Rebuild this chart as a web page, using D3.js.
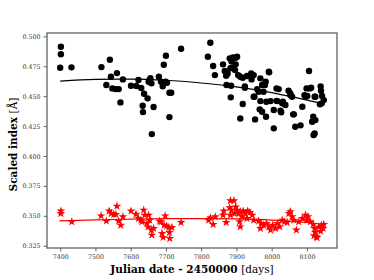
<!DOCTYPE html>
<html>
<head>
    <meta charset="UTF-8">
    <script src="https://d3js.org/d3.v7.min.js"></script>
    <style>
        body { margin: 0; background: #fff; }
        svg { display: block; }
    </style>
</head>
<body>
    <svg></svg>
    <script>
        let width = 374, height = 280;

        // black circles: [julian date - 2450000, scaled index]
        let blackPoints = [
            [7402, 0.4913], [7402, 0.4850], [7400, 0.4738], [7432, 0.4741],
            [7517, 0.4743], [7541, 0.4804], [7544, 0.4662], [7561, 0.4693], [7578, 0.4640], [7531, 0.4593],
            [7548, 0.4565], [7557, 0.4559], [7566, 0.4559], [7571, 0.4448],
            [7601, 0.4587], [7616, 0.4585], [7622, 0.4635], [7630, 0.4568], [7638, 0.4520], [7648, 0.4482],
            [7634, 0.4420], [7635, 0.4367], [7654, 0.4635], [7659, 0.4607], [7660, 0.4183], [7665, 0.4409],
            [7651, 0.4620], [7656, 0.4650], [7680, 0.4662], [7686, 0.4620], [7694, 0.4763], [7700, 0.4838],
            [7691, 0.4582], [7699, 0.4620], [7703, 0.4612], [7710, 0.4528], [7715, 0.4528], [7710, 0.4325],
            [7743, 0.4896], [7826, 0.4947], [7819, 0.4829], [7834, 0.4752], [7839, 0.4676],
            [7862, 0.4766], [7867, 0.4710], [7871, 0.4671], [7881, 0.4816], [7883, 0.4733], [7890, 0.4738],
            [7898, 0.4821], [7898, 0.4766], [7896, 0.4718], [7890, 0.4824], [7902, 0.4829], [7886, 0.4790],
            [7875, 0.4690], [7905, 0.4676], [7911, 0.4662], [7918, 0.4654], [7930, 0.4668], [7942, 0.4690],
            [7949, 0.4676], [7943, 0.4640], [7968, 0.4649], [7993, 0.4699], [7983, 0.4620], [7981, 0.4593],
            [7872, 0.4593], [7885, 0.4587], [7884, 0.4490], [7911, 0.4314], [7918, 0.4434], [7924, 0.4570],
            [7924, 0.4582], [7951, 0.4495], [7959, 0.4559], [7963, 0.4537], [7968, 0.4459], [7966, 0.4390],
            [7973, 0.4370], [7953, 0.4306], [7984, 0.4328], [7985, 0.4453], [7997, 0.4459], [8006, 0.4384],
            [8006, 0.4231], [8014, 0.4565], [8020, 0.4559], [8014, 0.4461], [8025, 0.4378], [8032, 0.4453],
            [8039, 0.4426], [8048, 0.4545], [8053, 0.4523], [8053, 0.4509], [8058, 0.4495], [8061, 0.4348],
            [8067, 0.4244], [8082, 0.4256], [8087, 0.4411], [8093, 0.4509], [8101, 0.4501], [8106, 0.4710],
            [8099, 0.4565], [8108, 0.4565], [8112, 0.4570], [8122, 0.4495], [8118, 0.4328], [8115, 0.4286],
            [8124, 0.4300], [8122, 0.4189], [8119, 0.4175], [8139, 0.4582], [8140, 0.4545], [8143, 0.4501],
            [8148, 0.4467], [8137, 0.4432], [8142, 0.4440], [7973, 0.4593], [7977, 0.4537], [7949, 0.4495],
            [7992, 0.4704], [8027, 0.4365], [8063, 0.4348], [8096, 0.4495], [8124, 0.4495], [8030, 0.4440],
            [8016, 0.4459]
        ];

        // red stars
        let redPoints = [
            [7402, 0.3540], [7402, 0.3520], [7433, 0.3450], [7516, 0.3500], [7531, 0.3456], [7539, 0.3540],
            [7545, 0.3520], [7552, 0.3512], [7561, 0.3581], [7558, 0.3512], [7566, 0.3456], [7572, 0.3422],
            [7578, 0.3492], [7601, 0.3540], [7615, 0.3514], [7622, 0.3478], [7629, 0.3464], [7637, 0.3548],
            [7640, 0.3506], [7632, 0.3450], [7646, 0.3437], [7651, 0.3506], [7654, 0.3464], [7649, 0.3408],
            [7659, 0.3381], [7660, 0.3339], [7665, 0.3395], [7682, 0.3456], [7686, 0.3450], [7689, 0.3353],
            [7692, 0.3320], [7698, 0.3500], [7695, 0.3422], [7702, 0.3414], [7708, 0.3403], [7710, 0.3361],
            [7711, 0.3311], [7717, 0.3403], [7743, 0.3445],
            [7826, 0.3483], [7821, 0.3464], [7834, 0.3428], [7840, 0.3492], [7864, 0.3540], [7862, 0.3506],
            [7871, 0.3445], [7883, 0.3626], [7893, 0.3626], [7881, 0.3567], [7886, 0.3548], [7883, 0.3506],
            [7898, 0.3575], [7902, 0.3548], [7895, 0.3520], [7907, 0.3520], [7911, 0.3534], [7919, 0.3540],
            [7925, 0.3520], [7932, 0.3540], [7938, 0.3529], [7945, 0.3506], [7916, 0.3492], [7909, 0.3450],
            [7911, 0.3408], [7930, 0.3478], [7949, 0.3464], [7963, 0.3456], [7970, 0.3437], [7968, 0.3395],
            [7977, 0.3422], [7985, 0.3437], [7992, 0.3408], [7997, 0.3381], [8003, 0.3422], [8011, 0.3395],
            [8017, 0.3437], [8023, 0.3408], [8030, 0.3464], [8036, 0.3450], [8044, 0.3445], [8049, 0.3520],
            [8053, 0.3534], [8058, 0.3492], [8063, 0.3464], [8070, 0.3381], [8077, 0.3450], [8087, 0.3478],
            [8096, 0.3506], [8103, 0.3492], [8099, 0.3464], [8110, 0.3450], [8118, 0.3428], [8122, 0.3395],
            [8124, 0.3361], [8120, 0.3333], [8127, 0.3325], [8134, 0.3408], [8141, 0.3422], [8146, 0.3395],
            [8148, 0.3428], [8139, 0.3372], [8129, 0.3317]
        ];

        // fitted trends
        let blackFit = [
            [7400, 0.4626], [7500, 0.4641], [7600, 0.4643], [7700, 0.4633], [7800, 0.4610],
            [7900, 0.4578], [8000, 0.4530], [8100, 0.4467], [8148, 0.4436]
        ];
        let redFit = [
            [7398, 0.3458], [7500, 0.3466], [7600, 0.3472], [7700, 0.3476], [7800, 0.3477],
            [7900, 0.3474], [8000, 0.3464], [8100, 0.3444], [8148, 0.3430]
        ];

        let xTicks = [7400, 7500, 7600, 7700, 7800, 7900, 8000, 8100];
        let yTicks = [0.325, 0.350, 0.375, 0.400, 0.425, 0.450, 0.475, 0.500];

        let mLeft = 47, mRight = 337, mTop = 33, mBottom = 248;
        let font = "'DejaVu Serif', serif";

        let svg = d3.select("svg")
            .attr("width", width)
            .attr("height", height);

        let x = d3.scaleLinear().domain([7362.6, 8185.4]).range([mLeft, mRight]);
        let y = d3.scaleLinear().domain([0.3231, 0.5028]).range([mBottom, mTop]);

        // axes
        let xAxis = svg.append("g")
            .attr("transform", "translate(0," + mBottom + ")")
            .call(d3.axisBottom(x).tickValues(xTicks).tickSize(3.5).tickPadding(3).tickFormat(d3.format("d")));
        let yAxis = svg.append("g")
            .attr("transform", "translate(" + mLeft + ",0)")
            .call(d3.axisLeft(y).tickValues(yTicks).tickSize(3.5).tickPadding(3).tickFormat(d3.format(".3f")));

        [xAxis, yAxis].forEach(a => {
            a.select(".domain").remove();
            a.selectAll("line").attr("stroke", "#444").attr("stroke-width", 0.8);
            a.selectAll("text")
                .attr("fill", "#333")
                .style("font-family", font)
                .style("font-size", "6.3px");
        });

        // frame
        svg.append("rect")
            .attr("x", mLeft).attr("y", mTop)
            .attr("width", mRight - mLeft).attr("height", mBottom - mTop)
            .attr("fill", "none")
            .attr("stroke", "#555")
            .attr("stroke-width", 1.2);

        let line = d3.line().x(d => x(d[0])).y(d => y(d[1])).curve(d3.curveMonotoneX);

        svg.append("g")
            .selectAll("circle")
            .data(blackPoints)
            .enter()
            .append("circle")
            .attr("cx", d => x(d[0]))
            .attr("cy", d => y(d[1]))
            .attr("r", 3.2)
            .attr("fill", "black");

        svg.append("path")
            .datum(blackFit)
            .attr("d", line)
            .attr("fill", "none")
            .attr("stroke", "black")
            .attr("stroke-width", 1.2);

        let star = d3.symbol().type(d3.symbolStar).size(24);
        svg.append("g")
            .selectAll("path")
            .data(redPoints)
            .enter()
            .append("path")
            .attr("d", star)
            .attr("transform", d => "translate(" + x(d[0]) + "," + y(d[1]) + ")")
            .attr("fill", "red");

        svg.append("path")
            .datum(redFit)
            .attr("d", line)
            .attr("fill", "none")
            .attr("stroke", "red")
            .attr("stroke-width", 1.2);

        // axis labels
        let xl = svg.append("text")
            .attr("x", (mLeft + mRight) / 2)
            .attr("y", 273)
            .attr("text-anchor", "middle")
            .style("font-family", font)
            .style("font-size", "10.5px");
        xl.append("tspan").style("font-weight", "bold").text("Julian date - 2450000 ");
        xl.append("tspan").text("[days]");

        let yl = svg.append("text")
            .attr("transform", "translate(17," + ((mTop + mBottom) / 2 + 4) + ") rotate(-90)")
            .attr("text-anchor", "middle")
            .style("font-family", font)
            .style("font-size", "10.5px");
        yl.append("tspan").style("font-weight", "bold").text("Scaled index ");
        yl.append("tspan").text("[Å]");
    </script>
</body>
</html>
